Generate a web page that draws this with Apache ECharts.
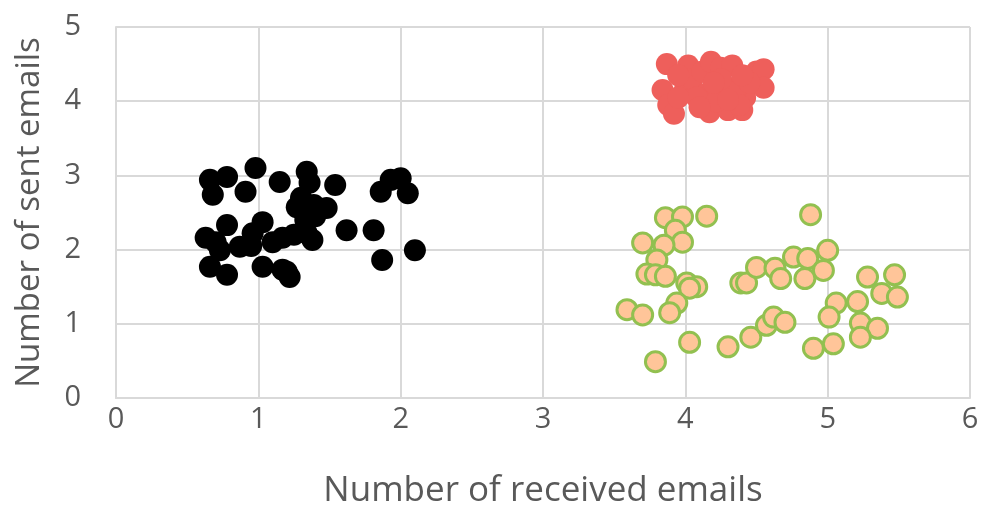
<!DOCTYPE html>
<html>
<head>
<meta charset="utf-8">
<script src="https://cdn.jsdelivr.net/npm/echarts@6/dist/echarts.min.js"></script>
<style>html,body{margin:0;padding:0;background:#fff;}#c{width:983px;height:521px;}</style>
</head>
<body>
<div id="c"></div>
<script>
const xAxisTitle = "Number of received emails";
const yAxisTitle = "Number of sent emails";
const xTicks = [0, 1, 2, 3, 4, 5, 6];
const yTicks = [0, 1, 2, 3, 4, 5];

const blackPoints = [
  [0.66,2.94],[0.78,2.98],[0.68,2.74],[0.91,2.78],[0.98,3.10],[1.15,2.91],[1.34,3.05],
  [1.27,2.57],[0.78,2.33],[0.63,2.16],[1.03,2.37],[0.96,2.22],[1.17,2.16],[0.87,2.04],
  [0.66,1.77],[0.78,1.66],[1.03,1.77],[1.17,1.73],[1.22,1.63],[0.73,1.99],[1.34,2.22],
  [1.54,2.87],[1.48,2.56],[1.38,2.13],[1.62,2.26],[1.81,2.26],[1.86,2.78],[1.93,2.94],
  [2.00,2.96],[2.05,2.76],[2.10,1.99],[1.87,1.86],[1.39,2.60],[1.30,2.70],[1.40,2.45],
  [1.20,1.70],[0.95,2.05],[1.10,2.10],[1.25,2.20],[0.70,2.10],[1.33,2.40],[1.36,2.90]
];
const redPoints = [
  [3.87,4.50],[3.84,4.15],[3.88,3.95],[3.92,3.83],[4.02,4.48],[4.00,4.18],[4.05,4.30],
  [4.12,4.40],[4.18,4.53],[4.15,4.10],[4.17,3.85],[4.25,4.45],[4.28,4.20],[4.33,4.48],
  [4.30,3.88],[4.40,3.88],[4.42,4.05],[4.50,4.40],[4.55,4.43],[4.55,4.18],[4.08,4.05],
  [4.22,4.00],[4.35,4.12],[4.45,4.25],[3.95,4.05],[4.10,3.92],[4.25,4.30],[4.38,3.95],
  [3.95,4.35],[4.20,4.25],[4.40,4.35],[4.30,4.02]
];
const orangePoints = [
  [3.86,2.43],[3.98,2.44],[4.15,2.45],[3.93,2.26],[3.98,2.10],[3.70,2.09],[3.85,2.06],
  [3.80,1.86],[3.73,1.67],[3.79,1.66],[3.86,1.64],[4.01,1.55],[4.08,1.50],[4.03,1.48],
  [3.94,1.28],[3.89,1.15],[3.59,1.19],[3.70,1.12],[4.03,0.75],[3.79,0.49],[4.30,0.69],
  [4.46,0.82],[4.57,0.98],[4.62,1.09],[4.70,1.02],[4.39,1.55],[4.43,1.55],[4.50,1.76],
  [4.63,1.75],[4.67,1.61],[4.76,1.90],[4.88,2.47],[4.86,1.88],[5.00,1.99],[4.97,1.72],
  [4.84,1.61],[5.28,1.63],[5.47,1.66],[5.38,1.41],[5.49,1.36],[5.06,1.28],[5.21,1.30],
  [5.01,1.09],[5.23,1.01],[5.35,0.94],[5.23,0.82],[5.04,0.73],[4.90,0.67]
];

const chart = echarts.init(document.getElementById('c'), null, {renderer: 'canvas'});
const gridColor = '#d9d9d9';
const textColor = '#595959';
const fontFamily = 'Open Sans';
chart.setOption({
  animation: false,
  backgroundColor: '#ffffff',
  grid: {left: 116, right: 13, top: 27, bottom: 123, containLabel: false},
  xAxis: {
    type: 'value', min: xTicks[0], max: xTicks[xTicks.length-1], interval: 1,
    name: xAxisTitle, nameLocation: 'middle', nameGap: 76,
    nameTextStyle: {color: textColor, fontSize: 35, fontFamily: fontFamily},
    axisLine: {show: true, lineStyle: {color: gridColor, width: 2}},
    axisTick: {show: false},
    axisLabel: {color: textColor, fontSize: 29, fontFamily: fontFamily, margin: 7},
    splitLine: {show: true, lineStyle: {color: gridColor, width: 2}}
  },
  yAxis: {
    type: 'value', min: yTicks[0], max: yTicks[yTicks.length-1], interval: 1,
    name: yAxisTitle, nameLocation: 'middle', nameGap: 70,
    nameTextStyle: {color: textColor, fontSize: 33, fontFamily: fontFamily},
    axisLine: {show: true, lineStyle: {color: gridColor, width: 2}},
    axisTick: {show: false},
    axisLabel: {color: textColor, fontSize: 29, fontFamily: fontFamily, margin: 35},
    splitLine: {show: true, lineStyle: {color: gridColor, width: 2}}
  },
  series: [
    {type: 'scatter', data: blackPoints, symbolSize: 22,
     itemStyle: {color: '#000000', opacity: 1}},
    {type: 'scatter', data: orangePoints, symbolSize: 20,
     itemStyle: {color: '#FFC599', borderColor: '#92C050', borderWidth: 3, opacity: 1}},
    {type: 'scatter', data: redPoints, symbolSize: 22,
     itemStyle: {color: '#EE5F5B', opacity: 1}}
  ]
});
</script>
</body>
</html>
